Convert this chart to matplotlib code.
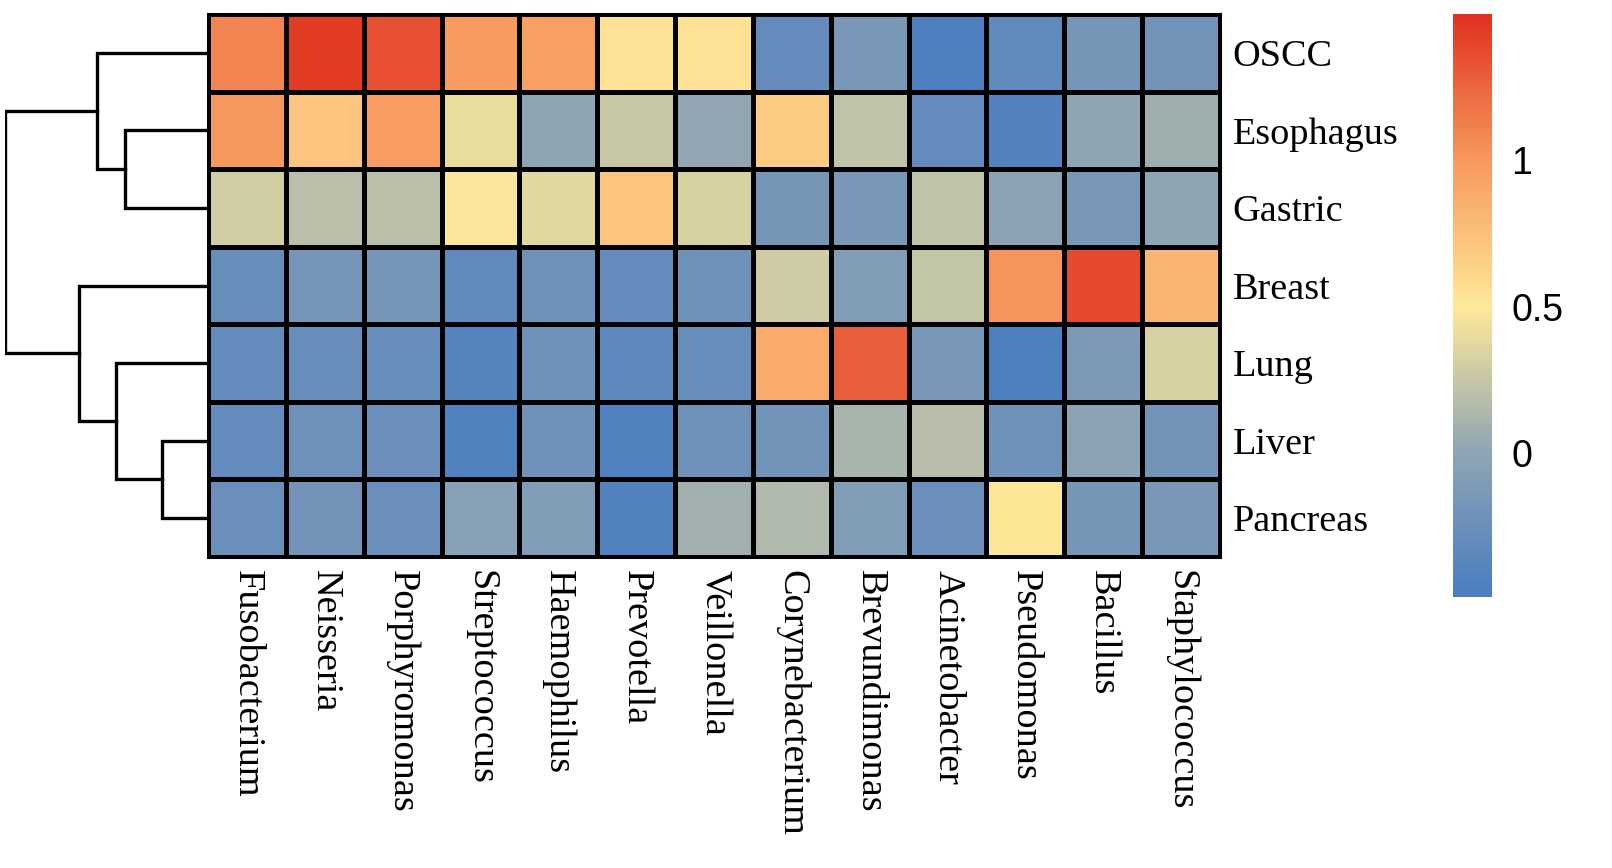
import numpy as np
import matplotlib
matplotlib.use("Agg")
import matplotlib.pyplot as plt
from matplotlib.colors import LinearSegmentedColormap

genera = ["Fusobacterium", "Neisseria", "Porphyromonas", "Streptococcus", "Haemophilus",
          "Prevotella", "Veillonella", "Corynebacterium", "Brevundimonas", "Acinetobacter",
          "Pseudomonas", "Bacillus", "Staphylococcus"]
cancers = ["OSCC", "Esophagus", "Gastric", "Breast", "Lung", "Liver", "Pancreas"]

oscc      = [1.10, 1.45, 1.35, 0.98, 0.95, 0.55, 0.55, -0.30, -0.15, -0.45, -0.32, -0.17, -0.20]
esophagus = [1.00, 0.72, 0.97, 0.40, 0.00, 0.25, 0.02, 0.68, 0.22, -0.30, -0.42, 0.00, 0.08]
gastric   = [0.30, 0.20, 0.20, 0.48, 0.37, 0.72, 0.33, -0.17, -0.15, 0.22, -0.02, -0.15, 0.00]
breast    = [-0.28, -0.18, -0.18, -0.33, -0.22, -0.30, -0.22, 0.28, -0.10, 0.24, 1.02, 1.38, 0.82]
lung      = [-0.30, -0.28, -0.28, -0.40, -0.22, -0.35, -0.28, 0.88, 1.28, -0.15, -0.45, -0.13, 0.33]
liver     = [-0.30, -0.23, -0.26, -0.43, -0.22, -0.43, -0.22, -0.20, 0.12, 0.18, -0.22, -0.01, -0.20]
pancreas  = [-0.26, -0.19, -0.26, -0.04, -0.10, -0.43, 0.09, 0.15, -0.10, -0.25, 0.52, -0.17, -0.15]

# row dendrogram merges: (left row/cluster, right row/cluster, height)
merges = [("Liver", "Pancreas", 1.0),
          ("Esophagus", "Gastric", 1.8),
          ("Lung", "c0", 2.0),
          ("OSCC", "c1", 2.4),
          ("Breast", "c2", 2.8),
          ("c3", "c4", 4.4)]

vmin, vmax = -0.49, 1.50
cbar_ticks = [0, 0.5, 1]

mat = np.array([oscc, esophagus, gastric, breast, lung, liver, pancreas])
cmap = LinearSegmentedColormap.from_list(
    "ramp", [(0.0, "#4a7cc0"), (0.25, "#8fa5b3"), (0.495, "#fee99a"), (0.75, "#f7985e"), (1.0, "#e0321f")])

W, H = 1612, 868
fig = plt.figure(figsize=(W / 100, H / 100), dpi=100)

def px_axes(x0, y0, x1, y1):
    return fig.add_axes([x0 / W, 1 - y1 / H, (x1 - x0) / W, (y1 - y0) / H])

ax = px_axes(208, 14, 1220, 557)
nr, nc = mat.shape
ax.pcolormesh(np.arange(nc + 1), np.arange(nr + 1), mat, cmap=cmap, vmin=vmin, vmax=vmax,
              edgecolors="black", linewidth=2.2)
ax.set_xlim(0, nc)
ax.set_ylim(nr, 0)
ax.set_xticks(np.arange(nc) + 0.5)
ax.set_xticklabels(genera, rotation=270, fontsize=27.5, family="Liberation Serif")
ax.set_yticks(np.arange(nr) + 0.5)
ax.set_yticklabels(cancers, fontsize=27.5, family="Liberation Serif")
ax.yaxis.tick_right()
ax.tick_params(length=0, pad=9)
for s in ax.spines.values():
    s.set_linewidth(2.2)

# dendrogram
dax = px_axes(5, 14, 208, 557)
pos = {name: i + 0.5 for i, name in enumerate(cancers)}
hgt = {name: 0.0 for name in cancers}
for k, (a, b, h) in enumerate(merges):
    ya, yb = pos[a], pos[b]
    dax.plot([hgt[a], h, h, hgt[b]], [ya, ya, yb, yb], color="black", lw=2.4,
             solid_capstyle="projecting", solid_joinstyle="miter")
    pos["c%d" % k] = (ya + yb) / 2
    hgt["c%d" % k] = h
dax.set_xlim(merges[-1][2], 0)
dax.set_ylim(nr, 0)
dax.axis("off")

# colorbar
cax = px_axes(1453, 14, 1492, 597)
cb = fig.colorbar(plt.cm.ScalarMappable(cmap=cmap, norm=plt.Normalize(vmin, vmax)), cax=cax)
cb.set_ticks(cbar_ticks)
cb.set_ticklabels(["0", "0.5", "1"])
cb.outline.set_visible(False)
cax.tick_params(length=0, pad=14, labelsize=27)
for t in cax.get_yticklabels():
    t.set_family("Liberation Sans")

fig.savefig("out.png", dpi=100)
